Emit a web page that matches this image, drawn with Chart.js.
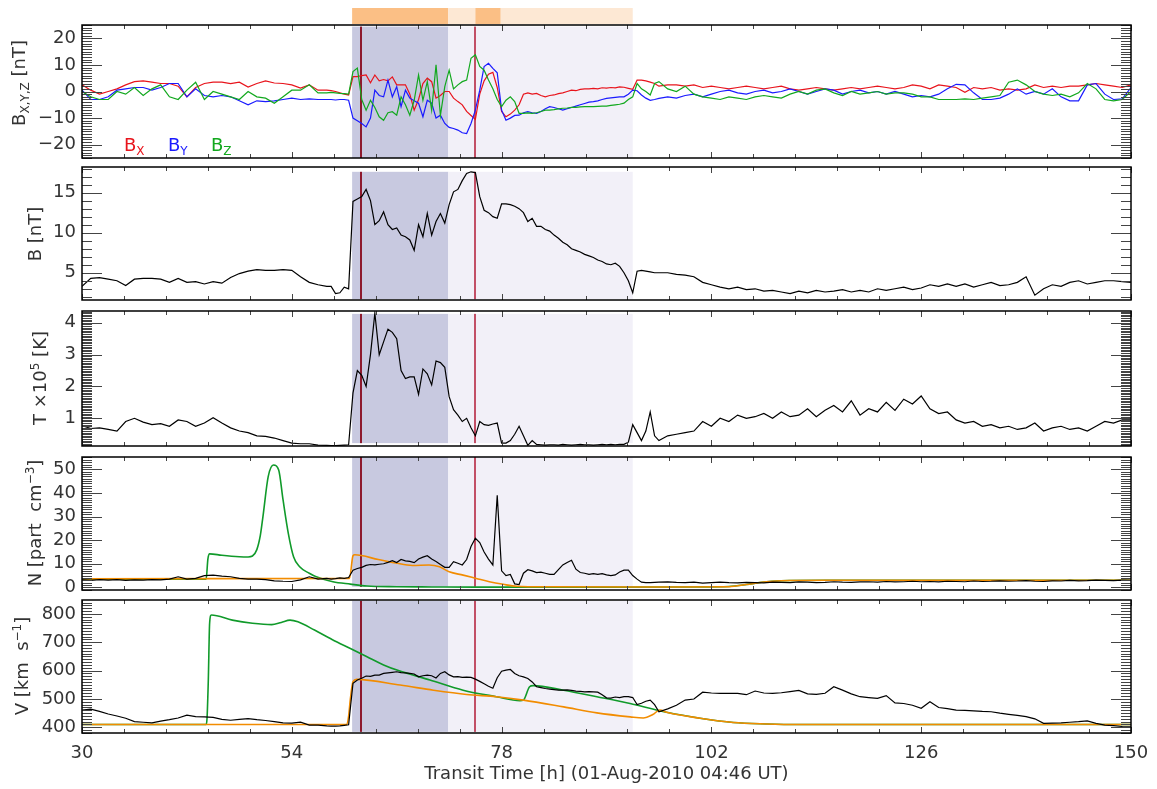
<!DOCTYPE html>
<html>
<head>
<meta charset="utf-8">
<script src="https://cdn.jsdelivr.net/npm/chart.js@4.4.1/dist/chart.umd.min.js"></script>
<style>
  html, body { margin: 0; background: #fff; }
  #wrap { position: relative; width: 1157px; height: 789px; }
  #wrap canvas { position: absolute; left: 0; top: 0; }
</style>
</head>
<body>
<div id="wrap">
  <canvas id="pBxyz" width="1157" height="789"></canvas>
  <canvas id="pB" width="1157" height="789"></canvas>
  <canvas id="pT" width="1157" height="789"></canvas>
  <canvas id="pN" width="1157" height="789"></canvas>
  <canvas id="pV" width="1157" height="789"></canvas>
</div>
<script>
"use strict";

// DATA ----------------------------

// observation times [h]: hourly, half-hourly through the event (58-96 h)
const hours = [];
for (let h = 30; h <= 150; h += (h >= 58 && h < 96) ? 0.5 : 1) hours.push(h);

const xTicks = [30, 54, 78, 102, 126, 150];

// event intervals [h]
const shockTime = 60.9;
const sheathEnd = 71.9;
const ejectaEnd = 93.0;
const markerTimes = [61.9, 75.0];
const barEdges = [60.9, 71.9, 75.0, 77.9, 93.0];

const bx = [
  2.5, 0.5, -1, 0, 1, 2.5, 3.7, 4, 3.5, 3,
  3, 2, -2, 1.5, 3, 3.5, 3.5, 3, 3.5, 1.7,
  3, 4, 3.2, 3, 2.5, 1.3, 2.5, 0.5,
  0.5, 0.3, 0, -0.5, -1, -1.3, 5.6, 5.6, 6, 6.2,
  3.3, 6.2, 4, 4.5, 4, 5.5, 2.5, 2.5, 2.5, -1,
  -7, -3, 3, 5, 3.7, -2.5, -1.5, 0, 0, -2.5,
  -3.8, -5, -7.5, -9, -10.5, -1, 4, 6.5, 7.2, 1.5,
  -7.5, -9.5, -8.5, -7, -5, -1, -0.5, -1, -0.7, -1.5,
  -2, -1.5, -1.3, -0.8, -0.5, 0, 0.5, 0.3, 0.8, 1,
  1, 1.2, 1, 1.4, 1.3, 1.5, 1.4, 1.7, 1.6, 1.2,
  0.8, 4.3, 4.3, 4, 3.5, 3, 2,
  2.5, 2.5, 2, 2.5, 1.5, 2, 1.5, 1, 1.5, 2,
  1.5, 1, 1.5, 2, 1, 0.5, 1, 1.5, 1, 0.5,
  1, 1.5, 1, 1.5, 2, 1.5, 1, 1.5, 2.5, 2,
  1, 2.5, 2, 1.5, -0.3, 1.5, 1, 1.5, 0.5, 1,
  0.5, 1, 2.5, 1.5, 2, 1.5, 2, 2, 2.5, 3,
  2.5, 2, 1.5, 2.5
];

const by = [
  0.5, -3, -3, -2, 0.5, 1, 1.5, 1.5, 0.5, 1.5,
  3, 3, -2, 1, -1.5, -2, -1.5, -2, -3.5, -5,
  -3.5, -3.8, -3.5, -3, -2.5, -3, -2.8, -3,
  -3, -3, -3.2, -3, -3, -3.3, -10, -11, -12, -13.3,
  -10, 0.5, -1.5, -2, 4.3, -2, 1.8, -5.7, 0.5, -2.5,
  -3.5, -4.4, -9.5, -3.3, -4.4, -10, -8.9, -12, -13.5, -13.9,
  -14.5, -15.5, -15.8, -12, -7, 0.5, 9.4, 10.6, 8.7, 7,
  -7, -10.8, -10, -9, -8.9, -8, -7.6, -8, -8.2, -7.5,
  -6.5, -5.7, -6, -6.5, -7, -6.5, -6, -5.5, -5, -4.5,
  -4, -3.8, -3.5, -3, -2.6, -2.4, -2.2, -2, -2, -1,
  0.5, 0.3, -1.3, -2.5, -3.3, -3, -2.6,
  -2, -2.5, -1.5, -1, -2, -1, 0, 0.5, -0.5, -1,
  0, 0.5, -0.5, 0, 1, 0, -1, 0, 1, 0.5,
  -1, 0, 0.5, -0.5, 0, -1, 0, -1, -2, -1.5,
  -2, -1, 1, 2.7, 2.5, -0.5, -3, -3, -2.5, -1,
  1, -1, 0, -1, 1, -2, -3.5, -3.5, 2.5, 3,
  -1, -3, -2.8, 1.5
];

const bz = [
  0, -2, -3, -3, 0, -1, 1.5, -1.5, 1, 2.5,
  -2, -3, 0.5, 3.5, -3, 0, -1, -2, -3, 0,
  -2, -2.5, -4.4, -2, 0.5, 0.5, 2.5, -0.5,
  -0.5, -0.3, -0.5, -0.7, -0.8, -1, 7.5, 8.8, -3, -7,
  -3.3, -6, -9.5, -10.8, -8, -7.6, -8.9, -2, -5, -8.9,
  -3.3, 6.2, -3.3, 3.7, -7, 10, -9, 1.8, 8, 1,
  2.5, 3.7, 4.3, 12.5, 13.8, 9.4, 8, 4.3, 1, -3,
  -5.7, -3.3, -2, -3.8, -8.2, -8.2, -8, -8.2, -8, -7.5,
  -7, -7, -6.8, -6.5, -6.3, -6.2, -6, -6, -5.8, -5.7,
  -5.7, -5.7, -5.6, -5.5, -5.5, -5.2, -5, -4.8, -4.4, -3,
  -2, 3, 1, 0, -1.3, 3, 3.7,
  1, 0, 2, -1, -2, -2.5, -3, -2, -2.5, -3,
  -2, -1.5, -2, -2.5, -1, 0, -1, 0.5, 1, -0.5,
  -1.5, 0, -1, -0.5, 0, -1, -0.5, -0.5, -1, -2,
  -2, -3, -3, -3, -2.8, -3, -2.5, -2, -1.5, 3.5,
  4.3, 2.5, 0, -1, -1.5, -1, -2, -0.5, 3, 1,
  -3, -3.5, -3, 0
];

const bMag = [
  3.3, 4.3, 4.4, 4.2, 4, 3.4, 4.2, 4.3, 4.3, 4.2,
  3.8, 4.3, 3.8, 3.9, 3.6, 3.9, 3.7, 4.4, 4.9, 5.2,
  5.4, 5.3, 5.3, 5.4, 5.3, 4.5, 3.8, 3.5,
  3.3, 3.3, 2.4, 2.5, 3.2, 3.0, 13.9, 14.2, 14.5, 15.4,
  14, 11, 11.5, 12.6, 11, 10.4, 10.6, 9.7, 9.5, 9.1,
  7.8, 11, 9.5, 12.4, 9.7, 11.4, 12.4, 11.2, 13.5, 15.1,
  15.4, 16.5, 17.4, 17.6, 17.5, 14.5, 12.8, 12.5, 12, 11.8,
  13.6, 13.6, 13.5, 13.3, 13, 12.5, 11.4, 11.8, 10.8, 10.8,
  10.4, 10.2, 9.7, 9.3, 8.8, 8.5, 8, 7.8, 7.6, 7.3,
  7.1, 6.9, 6.6, 6.4, 6.1, 6, 6.2, 5.8, 5, 4,
  2.5, 5.2, 5.3, 5.2, 5.1, 5, 5,
  5, 4.8, 4.7, 4.5, 3.8, 3.5, 3.2, 3, 3.2, 2.9,
  3, 2.7, 2.8, 2.6, 2.4, 2.7, 2.5, 2.8, 2.6, 2.7,
  2.9, 2.6, 2.8, 2.6, 3, 2.8, 3, 3.2, 2.9, 3.1,
  3.5, 3.3, 3.6, 3.3, 3.6, 3.2, 3.5, 3.8, 3.4, 3.5,
  3.8, 4.5, 2.2, 3, 3.5, 3.3, 3.8, 4, 3.6, 3.8,
  4, 4, 3.9, 3.8
];

// temperature in units of 1e5 K
const temp = [
  0.77, 0.68, 0.7, 0.65, 0.6, 0.9, 1.0, 0.88, 0.8, 0.83,
  0.75, 0.95, 0.9, 0.75, 0.85, 1.02, 0.85, 0.7, 0.6, 0.55,
  0.45, 0.43, 0.38, 0.3, 0.22, 0.2, 0.2, 0.16,
  0.15, 0.14, 0.14, 0.15, 0.16, 0.17, 1.8, 2.5, 2.35, 2.0,
  3.0, 4.3, 3.0, 3.4, 3.8, 3.7, 3.5, 2.5, 2.25, 2.3,
  2.3, 1.75, 2.55, 2.4, 2.05, 2.8, 2.75, 2.6, 1.68, 1.27,
  1.1, 0.9, 1.0, 0.7, 0.45, 0.9, 0.8, 0.78, 0.82, 0.85,
  0.22, 0.22, 0.3, 0.5, 0.75, 0.45, 0.15, 0.3, 0.18, 0.17,
  0.16, 0.17, 0.17, 0.16, 0.18, 0.17, 0.16, 0.17, 0.18, 0.17,
  0.17, 0.16, 0.17, 0.18, 0.17, 0.18, 0.17, 0.18, 0.18, 0.25,
  0.8, 0.55, 0.3, 0.6, 1.2, 0.45, 0.3,
  0.45, 0.5, 0.55, 0.6, 0.9, 0.75, 1.0, 0.9, 1.1, 1.0,
  1.05, 1.15, 1.0, 1.2, 1.05, 1.1, 1.3, 1.05, 1.25, 1.4,
  1.2, 1.55, 1.1, 1.3, 1.2, 1.5, 1.25, 1.6, 1.45, 1.7,
  1.3, 1.15, 1.2, 0.95, 0.85, 0.9, 0.75, 0.8, 0.7, 0.75,
  0.65, 0.7, 0.85, 0.6, 0.7, 0.75, 0.65, 0.7, 0.6, 0.75,
  0.9, 0.85, 0.95, 0.95
];

const dens = [
  3.2, 3, 3.3, 3.1, 3.3, 3, 3.2, 3.1, 3.3, 3.2,
  3.5, 4.5, 3.5, 3.8, 5, 5.2, 4.8, 4.5, 3.8, 3.5,
  3.5, 3.3, 2.8, 2.6, 2.5, 3.2, 4.5, 3.5,
  3.8, 3.5, 3.7, 4, 3.8, 4.2, 7.3, 8, 8.5, 9.3,
  9.7, 9.5, 9.8, 10, 10.6, 11.3, 10.5, 11.8, 11.2, 11,
  10.5, 12, 12.8, 13.4, 12, 11, 9.7, 8.5, 8.5, 10.9,
  10.2, 9.5, 11.8, 17.3, 20.8, 19, 15, 12, 9.5, 39,
  7, 5, 5.5, 1.5, 1.2, 6, 7.5, 7, 6.3, 6.5,
  6, 5.5, 5.5, 7.5, 9.5, 10.5, 11.5, 7.7, 6.3, 6,
  5.5, 5.8, 5.5, 5.8, 5.3, 5, 5.3, 6.5, 7.3, 7.3,
  5, 3.5, 2.2, 2, 2, 2.1, 2.2,
  2.3, 2.1, 2, 2.2, 1.8, 2, 2.2, 2, 1.9, 2.1,
  2, 1.9, 2.2, 2.1, 2, 2.3, 2.2, 2, 2.1, 2.4,
  2.2, 2.1, 2.3, 2.4, 2.2, 2.5, 2.3, 2.4, 2.6, 2.4,
  2.5, 2.3, 2.6, 2.5, 2.4, 2.7, 2.5, 2.6, 2.8, 2.6,
  2.7, 2.9, 2.6, 2.5, 2.8, 2.7, 3, 2.8, 2.9, 3.1,
  3, 2.9, 3.1, 3
];

const speed = [
  461, 464, 456, 447, 440, 432, 420, 418, 416, 422,
  427, 433, 443, 438, 437, 435, 428, 425, 428, 431,
  427, 424, 420, 416, 415, 418, 408, 408,
  405, 404, 404, 405, 407, 409, 555, 567, 573, 581,
  580, 584, 584, 590, 592, 594, 596, 593, 592, 590,
  588, 578, 582, 584, 582, 574, 590, 596, 585, 578,
  579, 576, 577, 576, 570, 562, 554, 545, 538, 575,
  598, 602, 604, 590, 582, 578, 572, 560, 543, 540,
  537, 535, 533, 531, 531, 532, 530, 528, 527, 525,
  526, 525, 524, 515, 504, 503, 507, 505, 508, 508,
  505, 480, 485, 492, 496, 480, 455,
  465, 478, 496, 500, 524, 521, 520, 520, 520, 515,
  528, 521, 520, 522, 526, 530, 518, 516, 520, 543,
  531, 518, 508, 505, 502, 512, 486, 484, 478, 467,
  490, 470, 466, 461, 460, 458, 456, 455, 450, 446,
  442, 438, 430, 414, 415, 416, 418, 420, 423, 414,
  408, 406, 403, 402
];

// model runs (green = run A, orange = run B)
const nRunAHours = [30, 44.2, 44.4, 44.6, 46, 48, 49, 49.5, 50, 50.4, 50.7, 51.3, 51.9, 52.5, 53, 53.6, 54.2, 54.9, 56, 56.8, 58.7, 60.7, 62.6, 66, 70, 75, 80, 90, 100, 104, 106, 108, 110, 115, 150];
const nRunA = [3.5, 3.5, 12, 14.2, 13.6, 13, 12.9, 13.3, 16, 22, 30, 46.9, 51.8, 49.7, 37, 22.9, 13, 8.7, 6, 4.5, 2.4, 1.4, 0.6, 0.3, 0.2, 0.1, 0.1, 0.1, 0.2, 0.4, 1.2, 2.3, 2.8, 3, 3];
const nRunBHours = [30, 60.6, 61.0, 61.2, 63.9, 65.9, 67.8, 69.7, 70.9, 72, 73.6, 75.1, 76.6, 78.2, 79.7, 83.2, 95, 104, 106, 108, 110, 115, 150];
const nRunB = [3.6, 3.8, 13.4, 13.8, 11.8, 10.3, 9.3, 9.5, 8.7, 6.6, 5.2, 3.8, 2.4, 1.3, 0.5, 0.25, 0.2, 0.3, 1.2, 2.3, 2.8, 3, 3];

const vRunAHours = [30, 44.2, 44.3, 44.45, 44.6, 44.8, 47.2, 49.5, 51.7, 52.8, 53.8, 54.7, 56.6, 58.6, 60.7, 62.6, 64.5, 66.2, 69.8, 73.6, 77.4, 80.1, 80.5, 81.2, 81.6, 85.1, 88.9, 92.7, 95.5, 97, 100.7, 104.5, 108.3, 112, 150];
const vRunA = [410, 410, 430, 567, 767, 796, 778, 767, 762, 770, 778, 772, 743, 710, 678, 649, 620, 600, 567, 531, 508, 494, 496, 543, 547, 531, 508, 484, 463, 452, 432, 417, 412, 410, 410];
const vRunBHours = [30, 60.3, 60.5, 60.7, 61.0, 61.4, 66.4, 70.2, 74.0, 77.4, 80.5, 85.1, 88.9, 92.7, 94.2, 95.3, 96.1, 97, 100.7, 104.5, 108.3, 112, 150];
const vRunB = [410, 410, 440, 500, 561, 569, 549, 531, 516, 508, 496, 472, 451, 437, 433, 445, 461, 452, 432, 417, 412, 410, 410];

// CHART SETUP ---------------------

const FONT = '"DejaVu Sans", Verdana, sans-serif';
const FS = 18, FS_SMALL = 12;
const TEXT = '#333';
const RED = '#e8141c', BLUE = '#1a1aff', GREEN = '#12a81e';
const MODEL_GREEN = '#109a2a', MODEL_ORANGE = '#f28c00';

function pts(xs, ys) {
  return xs.map((x, i) => ({ x, y: ys[i] }));
}

function line(data, color, width, smooth) {
  return {
    data, borderColor: color, borderWidth: width, pointRadius: 0,
    fill: false, tension: 0,
    cubicInterpolationMode: smooth ? 'monotone' : 'default'
  };
}

function fmt(v) {
  return v < 0 ? '\u2212' + Math.abs(v) : String(v);
}

// text runs with sub/superscripts: [text, 'sub'|'sup'|undefined]
function richWidth(ctx, segs) {
  return segs.reduce((w, s) => {
    ctx.font = (s[1] ? FS_SMALL : FS) + 'px ' + FONT;
    return w + ctx.measureText(s[0]).width;
  }, 0);
}

function drawRich(ctx, segs, x, y) {
  let cx = x;
  segs.forEach(s => {
    ctx.font = (s[1] ? FS_SMALL : FS) + 'px ' + FONT;
    const dy = s[1] === 'sub' ? 4 : s[1] === 'sup' ? -7 : 0;
    ctx.fillText(s[0], cx, y + dy);
    cx += ctx.measureText(s[0]).width;
  });
}

// shading, marker lines, frame, IDL-like ticks and axis title
const idlPlugin = {
  id: 'idl',
  beforeDatasetsDraw(chart, args, o) {
    const { ctx, scales: { x, y } } = chart;
    const top = y.getPixelForValue(o.shade[1]);
    const bot = y.getPixelForValue(o.shade[0]);
    ctx.save();
    const x0 = x.getPixelForValue(shockTime);
    const x1 = x.getPixelForValue(sheathEnd);
    const x2 = x.getPixelForValue(ejectaEnd);
    ctx.fillStyle = '#c8c9e0';
    ctx.fillRect(x0, top, x1 - x0, bot - top);
    ctx.fillStyle = '#f2f0f8';
    ctx.fillRect(x1, top, x2 - x1, bot - top);
    ['#8e1a2e', '#c24f66'].forEach((c, i) => {
      const px = Math.round(x.getPixelForValue(markerTimes[i]));
      ctx.fillStyle = c;
      ctx.fillRect(px - 1, top, 2, bot - top);
    });
    ctx.restore();
  },
  afterDraw(chart, args, o) {
    const { ctx, chartArea: a, scales: { x, y } } = chart;
    ctx.save();
    // y ticks on both sides
    ctx.strokeStyle = '#444';
    ctx.lineWidth = 1;
    ctx.beginPath();
    const i0 = Math.ceil(y.min / o.minor - 1e-6), i1 = Math.floor(y.max / o.minor + 1e-6);
    for (let i = i0; i <= i1; i++) {
      const v = i * o.minor;
      const py = Math.round(y.getPixelForValue(v)) + 0.5;
      const major = o.ticks.some(t => Math.abs(t - v) < 1e-6);
      const len = major ? 20 : 10;
      ctx.moveTo(a.left, py); ctx.lineTo(a.left + len, py);
      ctx.moveTo(a.right, py); ctx.lineTo(a.right - len, py);
    }
    // x ticks top and bottom, 5 minor intervals per major
    for (let i = 0; i <= 25; i++) {
      const px = Math.round(x.getPixelForValue(30 + i * 4.8)) + 0.5;
      const len = i % 5 === 0 ? 6 : 4;
      ctx.moveTo(px, a.top); ctx.lineTo(px, a.top + len);
      ctx.moveTo(px, a.bottom); ctx.lineTo(px, a.bottom - len);
    }
    ctx.stroke();
    // frame
    ctx.strokeStyle = '#000';
    ctx.lineWidth = 1.5;
    ctx.strokeRect(a.left, a.top, a.right - a.left, a.bottom - a.top);
    // rotated axis title
    ctx.fillStyle = TEXT;
    ctx.textBaseline = 'alphabetic';
    ctx.translate(o.titleX + 6, o.titleY);
    ctx.rotate(-Math.PI / 2);
    drawRich(ctx, o.title, -richWidth(ctx, o.title) / 2, 0);
    ctx.restore();
    if (o.extra) o.extra(chart);
  }
};

function makePanel(id, p) {
  return new Chart(document.getElementById(id), {
    type: 'line',
    data: { datasets: p.datasets },
    options: {
      responsive: false,
      animation: false,
      events: [],
      layout: { padding: { top: p.top, bottom: 789 - p.bottom, left: 0, right: 26 } },
      plugins: {
        legend: { display: false },
        tooltip: { enabled: false },
        idl: {
          shade: p.shade, ticks: p.ticks, minor: p.minor,
          title: p.title, titleX: p.titleX, titleY: p.titleY, extra: p.extra
        }
      },
      scales: {
        x: { type: 'linear', min: 30, max: 150, display: false },
        y: {
          type: 'linear', min: p.min, max: p.max,
          afterFit: s => { s.width = 82; },
          afterBuildTicks: s => { s.ticks = p.ticks.map(v => ({ value: v })); },
          grid: { display: false, drawTicks: false },
          border: { display: false },
          ticks: {
            autoSkip: false, padding: 6, color: TEXT,
            font: { family: FONT, size: FS },
            callback: v => fmt(v)
          }
        }
      }
    },
    plugins: [idlPlugin]
  });
}

// PANELS --------------------------

makePanel('pBxyz', {
  top: 25, bottom: 158, min: -25, max: 25, shade: [-25, 24.4],
  ticks: [-20, -10, 0, 10, 20], minor: 1,
  title: [['B'], ['X,Y,Z', 'sub'], [' [nT]']], titleX: 19, titleY: 83,
  datasets: [
    line(pts(hours, bz), GREEN, 1.2),
    line(pts(hours, by), BLUE, 1.2),
    line(pts(hours, bx), RED, 1.2)
  ],
  extra(chart) {
    const { ctx, scales: { x } } = chart;
    ctx.save();
    // interval bars above the panel
    const barColors = ['#fbbf85', '#fde8d4', '#fbbf85', '#fde8d4'];
    for (let i = 0; i < barEdges.length - 1; i++) {
      const x0 = x.getPixelForValue(barEdges[i]);
      const x1 = x.getPixelForValue(barEdges[i + 1]);
      ctx.fillStyle = barColors[i];
      ctx.fillRect(x0, 8, x1 - x0, 16);
    }
    // component labels
    ctx.textBaseline = 'alphabetic';
    [['X', RED, 124], ['Y', BLUE, 168], ['Z', GREEN, 211]].forEach(([c, col, px]) => {
      ctx.fillStyle = col;
      drawRich(ctx, [['B'], [c, 'sub']], px, 151);
    });
    ctx.restore();
  }
});

makePanel('pB', {
  top: 167, bottom: 300, min: 1.6, max: 18.2, shade: [1.7, 17.6],
  ticks: [5, 10, 15], minor: 1,
  title: [['B [nT]']], titleX: 35, titleY: 234,
  datasets: [line(pts(hours, bMag), '#000', 1.2)]
});

makePanel('pT', {
  top: 311, bottom: 446, min: 0.13, max: 4.37, shade: [0.22, 4.28],
  ticks: [1, 2, 3, 4], minor: 0.05,
  title: [['T \u00d710'], ['5', 'sup'], [' [K]']], titleX: 40, titleY: 378,
  datasets: [line(pts(hours, temp), '#000', 1.2)]
});

makePanel('pN', {
  top: 457, bottom: 590, min: -1.1, max: 55.2, shade: [0.25, 55.2],
  ticks: [0, 10, 20, 30, 40, 50], minor: 1,
  title: [['N [part  cm'], ['\u22123', 'sup'], [']']], titleX: 35, titleY: 523,
  datasets: [
    line(pts(hours, dens), '#000', 1.2),
    line(pts(nRunBHours, nRunB), MODEL_ORANGE, 1.6, true),
    line(pts(nRunAHours, nRunA), MODEL_GREEN, 1.6, true)
  ]
});

makePanel('pV', {
  top: 600, bottom: 733, min: 380, max: 849, shade: [384, 846],
  ticks: [400, 500, 600, 700, 800], minor: 10,
  title: [['V [km  s'], ['\u22121', 'sup'], [']']], titleX: 22, titleY: 666,
  datasets: [
    line(pts(hours, speed), '#000', 1.2),
    line(pts(vRunBHours, vRunB), MODEL_ORANGE, 1.6, true),
    line(pts(vRunAHours, vRunA), MODEL_GREEN, 1.6, true)
  ],
  extra(chart) {
    const { ctx, chartArea: a, scales: { x } } = chart;
    ctx.save();
    ctx.fillStyle = TEXT;
    ctx.font = FS + 'px ' + FONT;
    ctx.textAlign = 'center';
    ctx.textBaseline = 'alphabetic';
    xTicks.forEach(v => ctx.fillText(String(v), x.getPixelForValue(v), 758));
    ctx.fillText('Transit Time [h] (01-Aug-2010 04:46 UT)', (a.left + a.right) / 2, 779);
    ctx.restore();
  }
});
</script>
</body>
</html>
